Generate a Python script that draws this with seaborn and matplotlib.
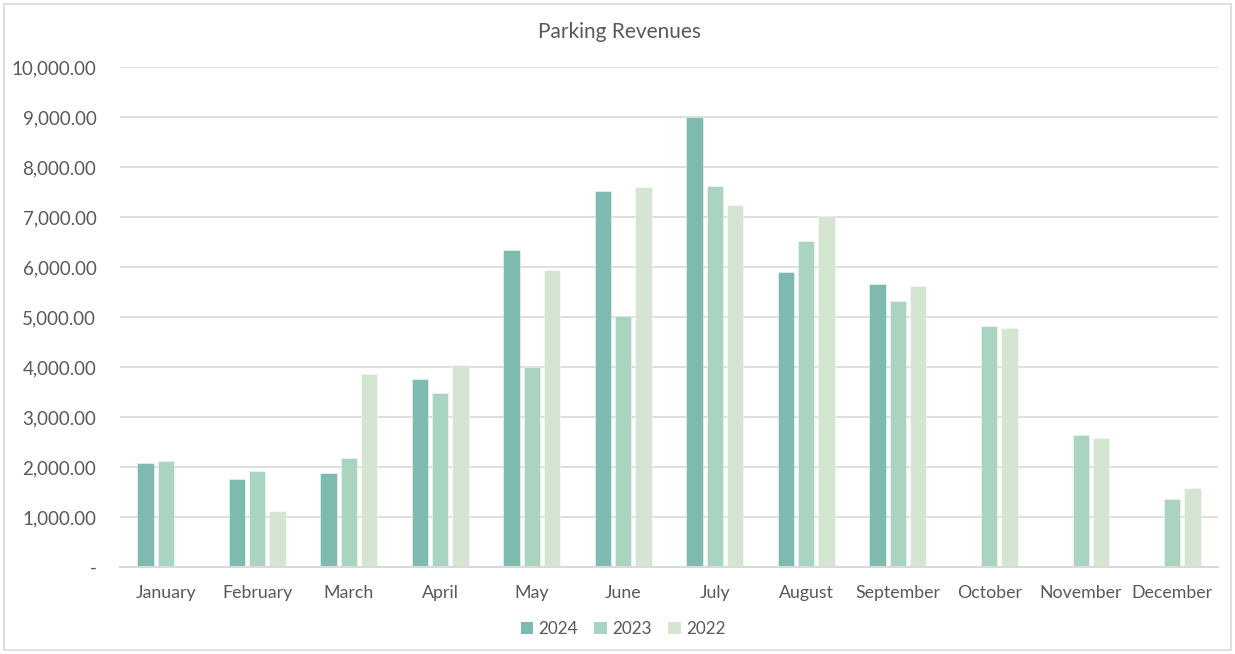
import matplotlib
matplotlib.use("Agg")
import matplotlib.pyplot as plt
import matplotlib.ticker as mticker
from matplotlib.patches import Rectangle
import seaborn as sns
import pandas as pd
import numpy as np

months = ["January", "February", "March", "April", "May", "June", "July",
          "August", "September", "October", "November", "December"]
years = ["2024", "2023", "2022"]
rev_2024 = [2090, 1760, 1890, 3760, 6340, 7520, 9010, 5910, 5670, np.nan, np.nan, np.nan]
rev_2023 = [2130, 1920, 2180, 3480, 4010, 5030, 7630, 6530, 5330, 4830, 2650, 1360]
rev_2022 = [np.nan, 1120, 3860, 4040, 5950, 7610, 7250, 7030, 5630, 4790, 2580, 1580]
colors = ["#7FBAB1", "#A9D4C0", "#D4E6D1"]

rows = []
for yr, vals in zip(years, [rev_2024, rev_2023, rev_2022]):
    for m, v in zip(months, vals):
        rows.append({"Month": m, "Year": yr, "Revenue": v})
df = pd.DataFrame(rows)

sns.set_theme(style="white")
plt.rcParams['font.family'] = ['Lato', 'DejaVu Sans']
text_color = "#595959"

fig = plt.figure(figsize=(12.35, 6.54), dpi=100)
ax = fig.add_axes([120/1235, 1-567/654, (1218-120)/1235, 500/654])

sns.barplot(data=df, x="Month", y="Revenue", hue="Year", order=months,
            hue_order=years, palette=colors, width=0.67, ax=ax,
            linewidth=0, saturation=1, legend=True)

# narrow each bar to leave a small gap between neighbours
fill_w = 0.18
for p in ax.patches:
    if isinstance(p, Rectangle) and p.get_height() == p.get_height():
        w = p.get_width()
        if w > 0:
            cx = p.get_x() + w / 2
            p.set_width(fill_w)
            p.set_x(cx - fill_w / 2)
            p.set_edgecolor((1, 1, 1, 0.5))
            p.set_linewidth(0.6)

ax.set_ylim(0, 10000)
ax.set_xlim(-0.5, 11.5)
ax.yaxis.set_major_locator(mticker.MultipleLocator(1000))

def fmt(v, pos):
    if abs(v) < 1e-6:
        return "-"
    return f"{v:,.2f}"
ax.yaxis.set_major_formatter(mticker.FuncFormatter(fmt))

ax.grid(axis="y", color="#D9D9D9", linewidth=1.2)
ax.set_axisbelow(True)
for s in ["top", "right", "left"]:
    ax.spines[s].set_visible(False)
ax.spines["bottom"].set_color("#D9D9D9")
ax.spines["bottom"].set_linewidth(1.5)
ax.tick_params(axis="both", length=0, labelcolor=text_color)
ax.tick_params(axis="x", labelsize=12.8, pad=13)
ax.tick_params(axis="y", labelsize=13.5, pad=17)
ax.set_xlabel("")
ax.set_ylabel("")

fig.text(620/1235, 1-32/654, "Parking Revenues", ha="center", va="center",
         fontsize=15, color=text_color)

handles, labels = ax.get_legend_handles_labels()
ax.legend_.remove()
leg = fig.legend(handles, labels, loc="center", bbox_to_anchor=(623/1235, 1-629/654),
                 ncol=3, frameon=False, fontsize=12.3, handlelength=0.75,
                 handleheight=0.75, handletextpad=0.3, columnspacing=0.95)
for t in leg.get_texts():
    t.set_color(text_color)
for h in leg.legend_handles:
    h.set_edgecolor("none")

fig.patches.append(Rectangle((4/1235, 4/654), 1227/1235, 646/654,
                             transform=fig.transFigure, fill=False,
                             edgecolor="#D9D9D9", linewidth=1.2))

fig.savefig("out.png", dpi=100)
